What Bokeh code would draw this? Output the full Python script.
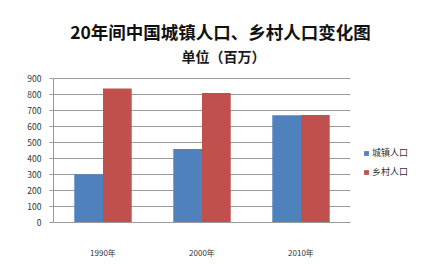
from bokeh.plotting import figure
from bokeh.models import ColumnDataSource, Label, Legend, LegendItem, FixedTicker, Range1d
from bokeh.embed import file_html
from bokeh.resources import INLINE

years = ["1990年", "2000年", "2010年"]
urban = [302, 459, 670]
rural = [838, 810, 672]
series_names = ["城镇人口", "乡村人口"]
title_line1 = "20年间中国城镇人口、乡村人口变化图"
title_line2 = "单位（百万）"
y_ticks = [0, 100, 200, 300, 400, 500, 600, 700, 800, 900]

FONT = "Noto Sans CJK SC"
BLUE = "#4F81BD"
RED = "#C0504D"
GRID = "#9a9a9a"

n = len(years)
ymax = y_ticks[-1]
centers = [i + 0.5 for i in range(n)]
BW = 0.29

src = ColumnDataSource(dict(
    xu=[c - BW / 2 for c in centers], xr=[c + BW / 2 for c in centers],
    urban=urban, rural=rural))

# frame spans to the right and top edges so legend and titles sit inside it
p = figure(width=422, height=264,
           x_range=Range1d(0, n * 369 / 297), y_range=Range1d(0, ymax * 222 / 144),
           output_backend="svg", toolbar_location=None,
           min_border_left=53, min_border_right=0, min_border_top=0, min_border_bottom=42)
p.background_fill_color = "white"
p.border_fill_color = "white"
p.outline_line_color = None
p.xgrid.grid_line_color = None
p.ygrid.grid_line_color = None

p.segment(x0=0, x1=n, y0=y_ticks, y1=y_ticks, line_color=GRID, line_width=1)

r1 = p.vbar(x="xu", top="urban", width=BW, source=src, fill_color=BLUE, line_color=None)
r2 = p.vbar(x="xr", top="rural", width=BW, source=src, fill_color=RED, line_color=None)

p.yaxis.ticker = FixedTicker(ticks=y_ticks)
p.yaxis.bounds = (0, ymax)
p.yaxis.axis_line_color = GRID
p.yaxis.major_tick_line_color = GRID
p.yaxis.major_tick_out = 4
p.yaxis.major_tick_in = 0
p.yaxis.minor_tick_line_color = None
p.yaxis.major_label_text_font = FONT
p.yaxis.major_label_text_font_size = "8.5px"
p.yaxis.major_label_text_color = "#333333"
p.yaxis.major_label_standoff = 8

p.xaxis.ticker = FixedTicker(ticks=centers)
p.xaxis.major_label_overrides = {c: y for c, y in zip(centers, years)}
p.xaxis.bounds = (0, n)
p.xaxis.axis_line_color = GRID
p.xaxis.major_tick_line_color = None
p.xaxis.minor_tick_line_color = None
p.xaxis.major_label_text_font = FONT
p.xaxis.major_label_text_font_size = "8px"
p.xaxis.major_label_text_color = "#333333"
p.xaxis.major_label_standoff = 18

legend = Legend(items=[LegendItem(label=series_names[0], renderers=[r1]),
                       LegendItem(label=series_names[1], renderers=[r2])],
                location=(310, 44), border_line_color=None, background_fill_alpha=0,
                label_text_font=FONT, label_text_font_size="9px",
                glyph_width=6, glyph_height=6, spacing=6, padding=2, margin=0,
                label_standoff=3, label_text_color="#333333")
p.add_layout(legend, "center")

t1 = Label(x=167, y=191, x_units="screen", y_units="screen", text=title_line1,
           text_font=FONT, text_font_size="17.5px", text_font_style="bold",
           text_align="center", text_baseline="middle", text_color="#111111")
t2 = Label(x=170, y=167, x_units="screen", y_units="screen", text=title_line2,
           text_font=FONT, text_font_size="14px", text_font_style="bold",
           text_align="center", text_baseline="middle", text_color="#1a1a1a")
p.add_layout(t1)
p.add_layout(t2)

open("out.html", "w").write(file_html(p, INLINE))
